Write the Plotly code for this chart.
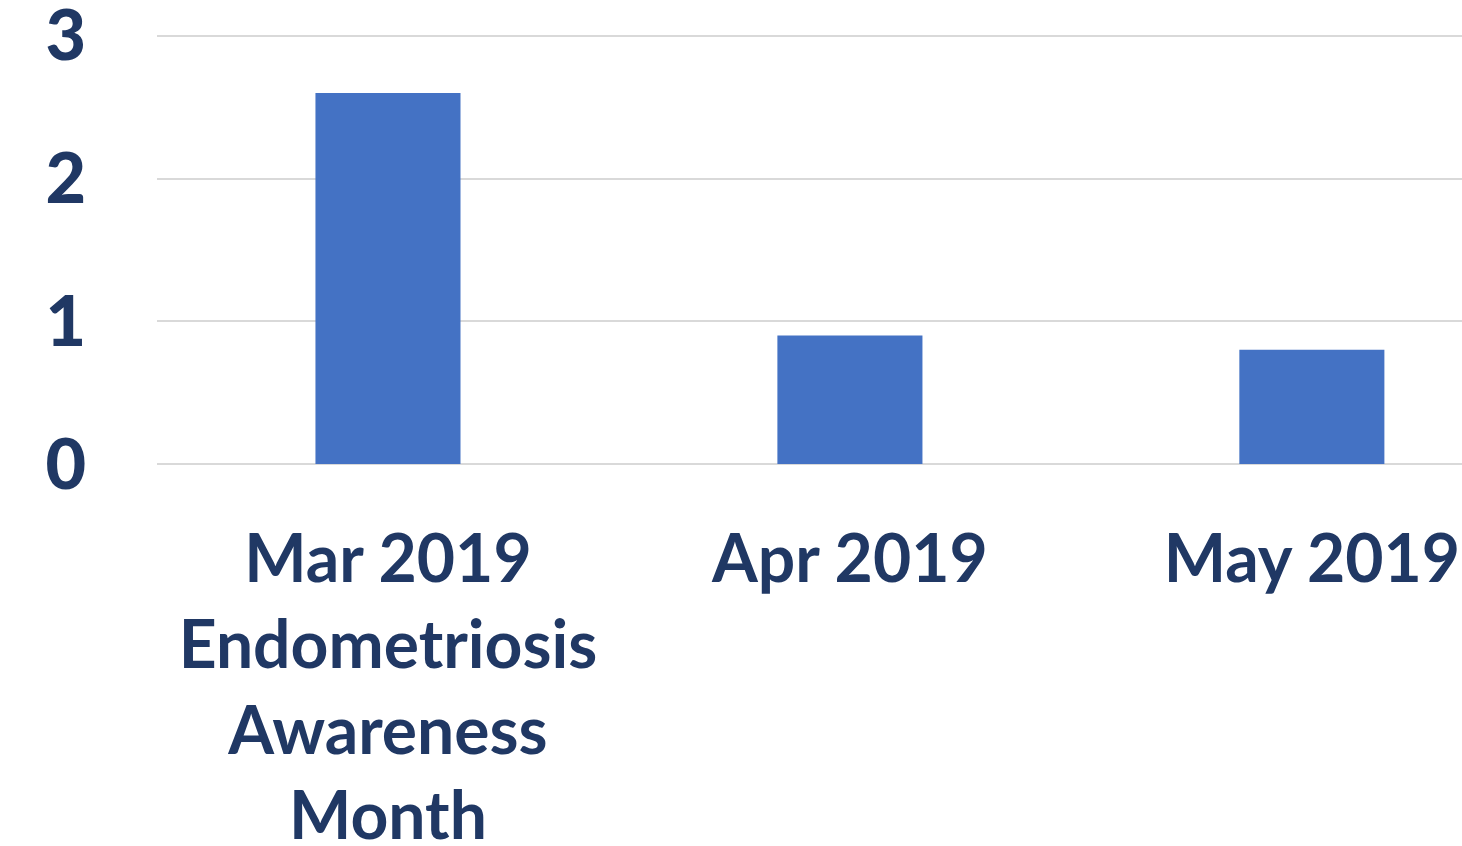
import plotly.graph_objects as go

categories = ["Mar 2019<br>Endometriosis<br>Awareness<br>Month", "Apr 2019", "May 2019"]
values = [2.6, 0.9, 0.8]
y_ticks = [0, 1, 2, 3]

navy = "#203864"
fig = go.Figure(go.Bar(x=categories, y=values, marker_color="#4472C4", marker_line_width=0))
fig.update_layout(
    width=1462, height=846,
    margin=dict(l=157, r=0, t=33, b=382),
    plot_bgcolor="white", paper_bgcolor="white",
    bargap=0.686,
    showlegend=False,
    font=dict(family="Lato", color=navy),
)
fig.update_xaxes(
    range=[-0.5, 2.325],
    tickfont=dict(size=66, family="Lato", color=navy, weight="bold"),
    showline=False, ticks="", ticklabelstandoff=51, automargin=False,
    ticklabeloverflow="allow",
)
fig.update_yaxes(
    range=[0, 3.02], tickvals=y_ticks,
    tickfont=dict(size=70, family="Lato", color=navy, weight=900),
    gridcolor="#D9D9D9", gridwidth=2, zeroline=True, zerolinecolor="#D9D9D9", zerolinewidth=2,
    showline=False, ticks="", ticklabelstandoff=70, automargin=False,
    ticklabeloverflow="allow",
)
fig.write_html(
    "out.html",
    config={"displayModeBar": False},
    post_script="document.body.style.margin='0';document.body.style.overflow='hidden';",
)
